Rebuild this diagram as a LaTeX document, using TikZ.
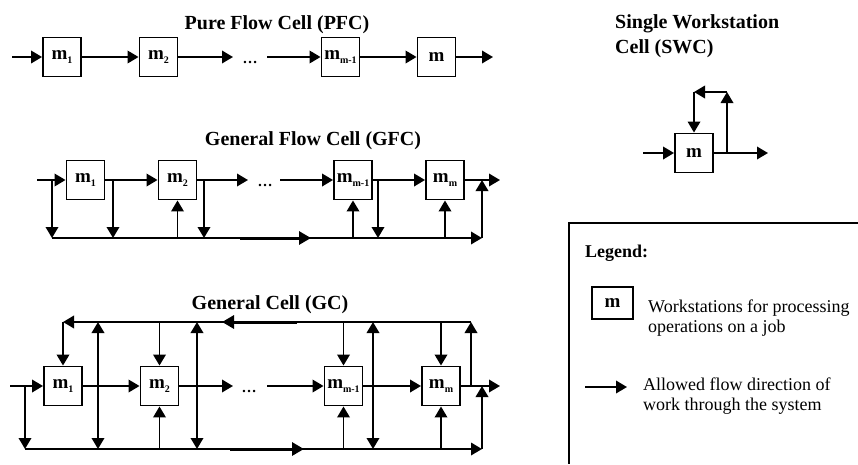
\documentclass[tikz,border=0pt]{standalone}
\usepackage{fontspec}
\setmainfont{Liberation Serif}
\usetikzlibrary{arrows.meta}
\newcommand{\mlab}[1]{\textbf{m}\raisebox{-0.45ex}{\fontsize{10}{10}\selectfont\bfseries #1}}
\begin{document}
\begin{tikzpicture}[x=1pt,y=-1pt,
 ln/.style={line width=1.9pt},
 arr/.style={ln,-{Triangle[length=11pt,width=12.5pt]}},
 darr/.style={ln,{Triangle[length=11pt,width=12.5pt]}-{Triangle[length=11pt,width=12.5pt]}},
 midarr/.style={line width=3pt,-{Triangle[length=12pt,width=13pt]}},
 ws/.style={draw,line width=1.9pt,minimum width=38pt,minimum height=39pt,inner sep=0pt,font=\fontsize{19}{19}\selectfont},
 title/.style={font=\fontsize{20}{24}\selectfont\bfseries,inner sep=0pt,anchor=base},
 dotsty/.style={font=\fontsize{15}{15}\selectfont\bfseries,inner sep=0pt,anchor=base},
 txt/.style={font=\fontsize{18}{19.5}\selectfont,align=left,anchor=base west,inner sep=0pt}]
\useasboundingbox (0,0) rectangle (858,464);

% ---------------- Pure Flow Cell ----------------
\node[title] (tp) at (277,29) {Pure Flow Cell (PFC)};
\node[ws] (p1) at (62,57) {\mlab{1}};
\node[ws] (p2) at (158.5,57) {\mlab{2}};
\node[ws] (p3) at (340.5,57) {\mlab{m-1}};
\node[ws] (p4) at (436.5,57) {\textbf{m}};
\node[dotsty] (pd) at (250,63) {\dots};
\coordinate (pin) at (12,57);
\coordinate (pout) at (493,57);
\coordinate (pd1) at (233,57);
\coordinate (pd2) at (267,57);
\draw[arr] (pin) -- (p1.west);
\draw[arr] (p1.east) -- (p2.west);
\draw[arr] (p2.east) -- (pd1);
\draw[arr] (pd2) -- (p3.west);
\draw[arr] (p3.east) -- (p4.west);
\draw[arr] (p4.east) -- (pout);

% ---------------- General Flow Cell ----------------
\node[title] (tg) at (313,145) {General Flow Cell (GFC)};
\node[ws] (g1) at (85.5,180) {\mlab{1}};
\node[ws] (g2) at (177.5,180) {\mlab{2}};
\node[ws] (g3) at (353,180) {\mlab{m-1}};
\node[ws] (g4) at (445,180) {\mlab{m}};
\node[dotsty] (gd) at (265,186) {\dots};
\coordinate (gin) at (37,180);
\coordinate (gj0) at (52,180);
\coordinate (gb0) at (52,238);
\coordinate (gj1) at (113,180);
\coordinate (gj2) at (204,180);
\coordinate (gd1) at (248,180);
\coordinate (gd2) at (280,180);
\coordinate (gj3) at (378,180);
\coordinate (gout) at (500,180);
\coordinate (gbe) at (482,238);
\coordinate (gue) at (482,180);
\coordinate (gm1) at (240,238);
\coordinate (gm2) at (311,238);
\draw[arr] (gin) -- (g1.west);
\draw[arr] (g1.east) -- (g2.west);
\draw[arr] (g2.east) -- (gd1);
\draw[arr] (gd2) -- (g3.west);
\draw[arr] (g3.east) -- (g4.west);
\draw[arr] (g4.east) -- (gout);
\draw[arr] (gj0) -- (gb0);
\draw[arr] (gj1) -- (gj1 |- gb0);
\draw[arr] (gj2) -- (gj2 |- gb0);
\draw[arr] (gj3) -- (gj3 |- gb0);
\draw[arr] (gb0) -- (gbe);
\draw[arr] (gbe) -- (gue);
\draw[arr] (g2.south |- gb0) -- (g2.south);
\draw[arr] (g3.south |- gb0) -- (g3.south);
\draw[arr] (g4.south |- gb0) -- (g4.south);
\draw[midarr] (gm1) -- (gm2);

% ---------------- General Cell ----------------
\node[title] (tc) at (270,309) {General Cell (GC)};
\node[ws] (c1) at (63,386) {\mlab{1}};
\node[ws] (c2) at (159.5,386) {\mlab{2}};
\node[ws] (c3) at (343.5,386) {\mlab{m-1}};
\node[ws] (c4) at (441,386) {\mlab{m}};
\node[dotsty] (cd) at (249,392) {\dots};
\coordinate (cin) at (10,386);
\coordinate (cj0) at (25,386);
\coordinate (cb0) at (25,449);
\coordinate (cbe) at (482,449);
\coordinate (cue) at (482,386);
\coordinate (cout) at (500,386);
\coordinate (cd1) at (233,386);
\coordinate (cd2) at (267,386);
\coordinate (ctr) at (471,322);
\coordinate (cur) at (471,386);
\coordinate (cv1) at (98,322);
\coordinate (cv2) at (197,322);
\coordinate (cv3) at (373,322);
\coordinate (ctm1) at (297,322);
\coordinate (ctm2) at (222,322);
\coordinate (cbm1) at (230,449);
\coordinate (cbm2) at (304,449);
\draw[arr] (cin) -- (c1.west);
\draw[arr] (c1.east) -- (c2.west);
\draw[arr] (c2.east) -- (cd1);
\draw[arr] (cd2) -- (c3.west);
\draw[arr] (c3.east) -- (c4.west);
\draw[arr] (c4.east) -- (cout);
\draw[arr] (cj0) -- (cb0);
\draw[arr] (cb0) -- (cbe);
\draw[arr] (cbe) -- (cue);
\draw[arr] (cur) -- (ctr);
\draw[arr] (ctr) -- (c1.north |- ctr);
\draw[arr] (c1.north |- ctr) -- (c1.north);
\draw[darr] (cv1) -- (cv1 |- cb0);
\draw[darr] (cv2) -- (cv2 |- cb0);
\draw[darr] (cv3) -- (cv3 |- cb0);
\draw[arr] (c2.north |- ctr) -- (c2.north);
\draw[arr] (c3.north |- ctr) -- (c3.north);
\draw[arr] (c4.north |- ctr) -- (c4.north);
\draw[arr] (c2.south |- cb0) -- (c2.south);
\draw[arr] (c3.south |- cb0) -- (c3.south);
\draw[arr] (c4.south |- cb0) -- (c4.south);
\draw[midarr] (ctm1) -- (ctm2);
\draw[midarr] (cbm1) -- (cbm2);

% ---------------- Single Workstation Cell ----------------
\node[font=\fontsize{20}{25}\selectfont\bfseries,align=left,anchor=base west,inner sep=0pt] (ts) at (615,53) {Single Workstation\\Cell (SWC)};
\node[ws] (s) at (694,153) {\textbf{m}};
\coordinate (sin) at (643,153);
\coordinate (sout) at (768,153);
\coordinate (sj) at (727,153);
\coordinate (st) at (727,92);
\draw[arr] (sin) -- (s.west);
\draw[arr] (s.east) -- (sout);
\draw[arr] (sj) -- (st);
\draw[arr] (st) -- (s.north |- st);
\draw[arr] (s.north |- st) -- (s.north);

% ---------------- Legend ----------------
\coordinate (lg1) at (858,223);
\coordinate (lg2) at (569,223);
\coordinate (lg3) at (569,464);
\draw[ln] (lg1) -- (lg2) -- (lg3);
\node[font=\fontsize{18}{18}\selectfont\bfseries,anchor=base west,inner sep=0pt] (lt) at (585,257) {Legend:};
\node[ws,minimum width=41pt,minimum height=32pt] (lw) at (612.5,303) {\textbf{m}};
\node[txt] (lt1) at (648,332) {Workstations for processing\\operations on a job};
\coordinate (la1) at (585,387);
\coordinate (la2) at (627,387);
\draw[arr] (la1) -- (la2);
\node[txt] (lt2) at (643,410) {Allowed flow direction of\\work through the system};
\end{tikzpicture}
\end{document}
